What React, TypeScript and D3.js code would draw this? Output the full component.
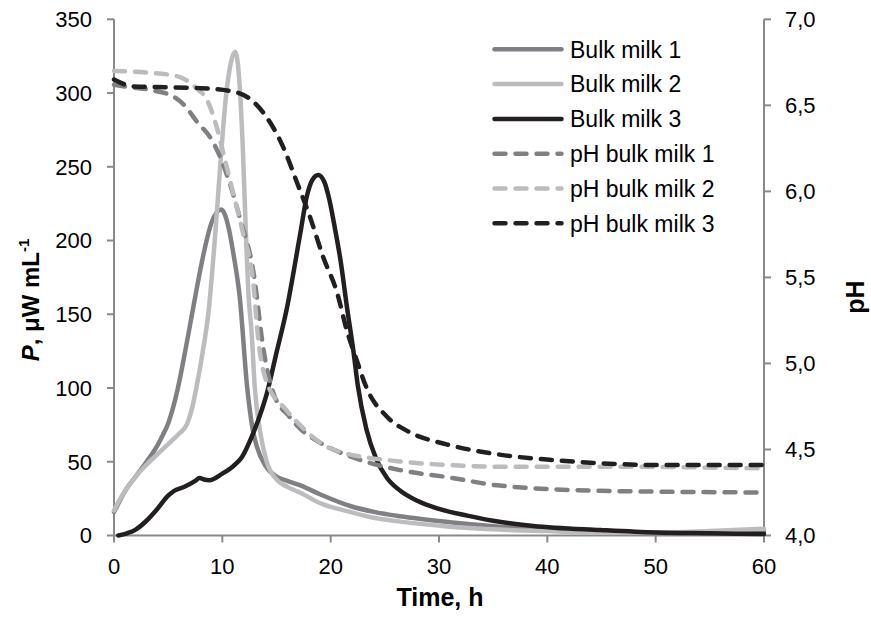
import * as d3 from "d3";

// time (h) vs heat flow P (µW mL-1)
const bulkMilk1: [number, number][] = [
  [0, 16], [0.5, 23], [1, 30], [2, 40], [3, 50], [4, 61], [4.5, 68], [5, 76],
  [5.9, 100], [6.6, 126], [7.2, 150], [7.5, 162], [8.3, 192], [9, 212], [9.9, 221],
  [10.6, 208], [11, 192], [11.6, 162], [12.3, 100], [12.8, 72], [13.2, 60], [14, 47],
  [15, 40], [16, 37], [17.2, 34], [19, 28], [21.8, 20], [24, 16], [26.4, 13],
  [31, 9], [35.6, 6], [40, 4], [45, 2.5], [50, 2], [55, 2], [60, 2.5],
];
const bulkMilk2: [number, number][] = [
  [0, 17], [0.5, 24], [1, 30], [2, 40], [3, 48], [4, 55], [5, 62], [6, 69], [6.7, 75],
  [7.2, 86], [7.6, 100], [8.2, 125], [8.7, 150], [9.3, 200], [9.8, 250], [10.3, 295],
  [10.8, 321], [11.2, 328], [11.6, 305], [11.9, 261], [12.2, 200], [12.4, 165],
  [12.7, 138], [13, 100], [13.5, 70], [14.1, 50], [15, 38], [16, 33], [17.2, 29],
  [19, 22], [21.8, 16], [24, 12], [26.4, 9.4], [31, 6], [35.6, 4], [40, 3],
  [45, 2], [50, 2], [55, 3], [60, 4.5],
];
const bulkMilk3: [number, number][] = [
  [0.4, 0], [1.2, 1.5], [2, 4], [3, 10], [4, 18], [5, 27], [5.5, 30], [6.5, 33],
  [7.5, 37], [7.9, 39], [8.3, 38], [8.8, 37.5], [10, 42], [11, 47], [11.8, 53],
  [12.6, 65], [13.3, 78], [14.1, 96], [15, 124], [15.9, 152], [17.2, 205],
  [17.8, 230], [18.3, 241], [18.85, 244.5], [19.4, 240], [19.9, 227], [20.4, 208],
  [20.9, 187], [21.5, 155], [22.1, 125], [22.5, 102], [23.3, 72], [24.2, 52],
  [25.2, 39], [26.4, 30.5], [28, 23.5], [30, 18], [32.6, 13.5], [35, 10],
  [38.7, 6.5], [44.9, 3.7], [50, 2], [55, 1.5], [60, 1],
];

// time (h) vs pH
const phBulkMilk1: [number, number][] = [
  [0, 6.62], [1, 6.61], [3.3, 6.59], [5.5, 6.55], [6.5, 6.5], [7.6, 6.41],
  [9.2, 6.28], [10.4, 6.1], [11.6, 5.85], [12.9, 5.52], [13.8, 5.08], [14.7, 4.83],
  [16.2, 4.69], [17.2, 4.62], [19, 4.54], [21.8, 4.46], [26.4, 4.38], [30.7, 4.34],
  [35.6, 4.29], [44.9, 4.26], [60, 4.25],
];
const phBulkMilk2: [number, number][] = [
  [0, 6.7], [3, 6.69], [5.8, 6.67], [7.6, 6.6], [8.6, 6.53], [9.5, 6.37],
  [10.1, 6.22], [11, 5.99], [11.9, 5.76], [12.9, 5.44], [13.2, 5.21], [14.1, 4.89],
  [15.9, 4.73], [17.2, 4.64], [20.2, 4.5], [26.4, 4.43], [30.7, 4.41], [35.6, 4.4],
  [45, 4.4], [60, 4.39],
];
const phBulkMilk3: [number, number][] = [
  [0, 6.65], [1.8, 6.61], [7.9, 6.6], [11, 6.58], [12.5, 6.54], [14.1, 6.43],
  [15.6, 6.26], [16.9, 6.05], [18.1, 5.85], [19.3, 5.62], [20.6, 5.41], [21.5, 5.19],
  [22.4, 5.02], [23.3, 4.86], [25.2, 4.69], [27.3, 4.6], [30.7, 4.53], [35.6, 4.47],
  [40.2, 4.44], [44.9, 4.42], [50, 4.41], [60, 4.41],
];

const xTicks = [0, 10, 20, 30, 40, 50, 60];
const pTicks = [0, 50, 100, 150, 200, 250, 300, 350];
const phTicks = [4.0, 4.5, 5.0, 5.5, 6.0, 6.5, 7.0];

const series = [
  { name: "Bulk milk 1", data: bulkMilk1, axis: "p", color: "#808084", dashed: false },
  { name: "Bulk milk 2", data: bulkMilk2, axis: "p", color: "#bcbcbf", dashed: false },
  { name: "Bulk milk 3", data: bulkMilk3, axis: "p", color: "#231f20", dashed: false },
  { name: "pH bulk milk 1", data: phBulkMilk1, axis: "ph", color: "#808084", dashed: true },
  { name: "pH bulk milk 2", data: phBulkMilk2, axis: "ph", color: "#bcbcbf", dashed: true },
  { name: "pH bulk milk 3", data: phBulkMilk3, axis: "ph", color: "#231f20", dashed: true },
];

const W = 871;
const H = 620;
const left = 114;
const right = 764;
const top = 19.3;
const bottom = 535.5;
const axisColor = "#898989";
const font = "Arial, 'Liberation Sans', sans-serif";

export default function App() {
  const x = d3.scaleLinear().domain([0, 60]).range([left, right]);
  const yP = d3.scaleLinear().domain([0, 350]).range([bottom, top]);
  const yPh = d3.scaleLinear().domain([4, 7]).range([bottom, top]);

  const lineFor = (axis: string) =>
    d3
      .line<[number, number]>()
      .x((d) => x(d[0]))
      .y((d) => (axis === "p" ? yP(d[1]) : yPh(d[1])))
      .curve(d3.curveMonotoneX);

  const comma = (v: number) => v.toFixed(1).replace(".", ",");

  return (
    <svg
      width={W}
      height={H}
      style={{ position: "absolute", left: 0, top: 0, background: "#fff" }}
      fontFamily={font}
    >
      <rect width={W} height={H} fill="#fff" />

      {/* axes */}
      <g stroke={axisColor} strokeWidth={2} fill="none">
        <line x1={left} x2={left} y1={top} y2={bottom} />
        <line x1={right} x2={right} y1={top} y2={bottom} />
        <line x1={left} x2={right} y1={bottom} y2={bottom} />
        {pTicks.map((t) => (
          <line key={"lp" + t} x1={left - 7} x2={left} y1={yP(t)} y2={yP(t)} />
        ))}
        {phTicks.map((t) => (
          <line key={"lr" + t} x1={right} x2={right + 7} y1={yPh(t)} y2={yPh(t)} />
        ))}
        {xTicks.map((t) => (
          <line key={"lx" + t} x1={x(t)} x2={x(t)} y1={bottom} y2={bottom + 7} />
        ))}
      </g>

      <g fontSize={22} fill="#000">
        {pTicks.map((t) => (
          <text key={"tp" + t} x={92} y={yP(t)} dy="0.36em" textAnchor="end">
            {t}
          </text>
        ))}
        {phTicks.map((t) => (
          <text key={"tr" + t} x={785} y={yPh(t)} dy="0.36em" textAnchor="start">
            {comma(t)}
          </text>
        ))}
        {xTicks.map((t) => (
          <text key={"tx" + t} x={x(t)} y={574} textAnchor="middle">
            {t}
          </text>
        ))}
      </g>

      {/* axis titles */}
      <text x={440} y={606} fontSize={25} fontWeight="bold" textAnchor="middle">
        Time, h
      </text>
      <text
        transform="translate(39,300) rotate(-90)"
        fontSize={24}
        fontWeight="bold"
        textAnchor="middle"
      >
        <tspan fontStyle="italic">P</tspan>
        <tspan>, μW mL</tspan>
        <tspan fontSize={15} dy={-10}>-1</tspan>
      </text>
      <text
        transform="translate(864,297) rotate(-90)"
        fontSize={25}
        fontWeight="bold"
        textAnchor="middle"
      >
        pH
      </text>

      {/* series */}
      <g fill="none" strokeWidth={4.5} strokeLinejoin="round" strokeLinecap="round">
        {series.map((s) => (
          <path
            key={s.name}
            d={lineFor(s.axis)(s.data) || ""}
            stroke={s.color}
            strokeDasharray={s.dashed ? "11 10" : undefined}
          />
        ))}
      </g>

      {/* legend */}
      <g>
        {series.map((s, i) => {
          const ly = 49.3 + i * 34.8;
          return (
            <g key={"leg" + s.name}>
              <line
                x1={494.5}
                x2={561.5}
                y1={ly}
                y2={ly}
                stroke={s.color}
                strokeWidth={4.5}
                strokeLinecap="round"
                strokeDasharray={s.dashed ? "11 10" : undefined}
              />
              <text x={570} y={ly} dy="0.36em" fontSize={23}>
                {s.name}
              </text>
            </g>
          );
        })}
      </g>
    </svg>
  );
}
